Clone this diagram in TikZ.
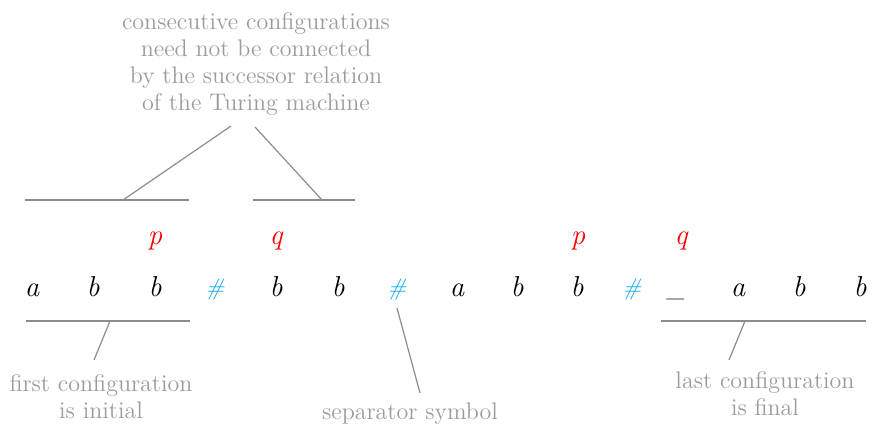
\documentclass[tikz,border=0pt]{standalone}
\definecolor{annot}{RGB}{155,155,155}
\definecolor{lne}{RGB}{140,140,140}
\definecolor{sepc}{RGB}{20,170,235}
\begin{document}
\begin{tikzpicture}[x=0.5pt,y=-0.5pt,
  sym/.style={font=\Large\itshape, inner sep=0pt, anchor=base},
  st/.style={sym, text=red},
  hs/.style={sym, font=\large\itshape, text=sepc},
  note/.style={font=\fontsize{12}{13.5}\selectfont, text=annot, align=center, inner sep=0pt},
  rule/.style={draw=lne, line width=0.6pt}]
\useasboundingbox (0,0) rectangle (872,430);
% tape
\node[sym] (s1) at (32,296) {a};
\node[sym] (s2) at (93,296) {b};
\node[sym] (s3) at (155,296) {b};
\node[hs]  (s4) at (215,295) {\#};
\node[sym] (s5) at (276,296) {b};
\node[sym] (s6) at (338,296) {b};
\node[hs]  (s7) at (397,295) {\#};
\node[sym] (s8) at (457,296) {a};
\node[sym] (s9) at (517,296) {b};
\node[sym] (s10) at (577,296) {b};
\node[hs]  (s11) at (632,295) {\#};
\node[sym] (s12) at (676,296) {\large\_};
\node[sym] (s13) at (738,296) {a};
\node[sym] (s14) at (799,296) {b};
\node[sym] (s15) at (860,296) {b};
% states
\node[st] (p1) at (155,244) {p};
\node[st] (q1) at (276,244) {q};
\node[st] (p2) at (578,244) {p};
\node[st] (q2) at (681,244) {q};
% top annotation
\node[note, anchor=north] (top) at (256,12) {consecutive configurations\\need not be connected\\by the successor relation\\of the Turing machine};
\coordinate (b1l) at (25,200); \coordinate (b1r) at (189,200); \coordinate (b1m) at (123,200);
\coordinate (b2l) at (253,200); \coordinate (b2r) at (355,200); \coordinate (b2m) at (322,200);
\coordinate (t1) at (231,126); \coordinate (t2) at (255,127);
\draw[rule] (b1l) -- (b1r);
\draw[rule] (b2l) -- (b2r);
\draw[rule] (b1m) -- (t1);
\draw[rule] (b2m) -- (t2);
% first configuration
\coordinate (f1l) at (26,321); \coordinate (f1r) at (190,321); \coordinate (f1m) at (110,321);
\coordinate (f1e) at (94,360);
\draw[rule] (f1l) -- (f1r);
\draw[rule] (f1m) -- (f1e);
\node[note] (first) at (101,397) {first configuration\\is initial};
% separator
\coordinate (se) at (420,393);
\draw[rule] ([yshift=-6.5pt]s7.base) -- (se);
\node[note] (sepn) at (410,414) {separator symbol};
% last configuration
\coordinate (l1l) at (661,321); \coordinate (l1r) at (866,321); \coordinate (l1m) at (745,321);
\coordinate (l1e) at (729,360);
\draw[rule] (l1l) -- (l1r);
\draw[rule] (l1m) -- (l1e);
\node[note] (last) at (765,394) {last configuration\\is final};
\end{tikzpicture}
\end{document}
